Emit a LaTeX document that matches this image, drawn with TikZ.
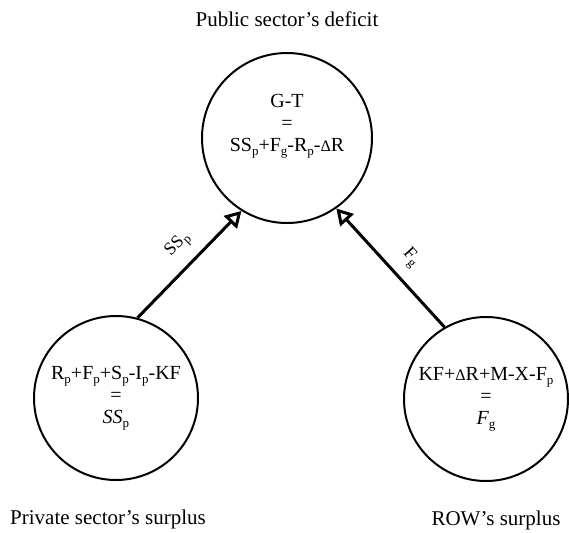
\documentclass[tikz,border=0pt]{standalone}
\usepackage{fontspec}
\setmainfont{Liberation Serif}
\usetikzlibrary{arrows.meta,positioning}
\newcommand{\sbs}[1]{\raisebox{-0.45ex}{\fontsize{6.5}{6.5}\selectfont #1}}
\newcommand{\dlt}{{\footnotesize Δ}}

\begin{document}
\begin{tikzpicture}[x=0.5pt, y=-0.5pt, >={Triangle[open,length=8pt,width=9pt]},
    sector/.style={draw, circle, line width=1pt, inner sep=0pt, align=center,
      font=\fontsize{10}{11}\selectfont},
    caption/.style={font=\fontsize{10.5}{12}\selectfont},
    flowlabel/.style={font=\fontsize{9}{10}\selectfont, sloped, above=2pt}]
    \useasboundingbox (0,0) rectangle (569,532);
    \node[sector, minimum size=85pt] (pub) at (287,138) {};
    \node[align=center, font=\fontsize{10}{11}\selectfont] (pubeq) at ([yshift=6pt]pub.center)
      {G-T\\=\\SS\sbs{p}+F\sbs{g}-R\sbs{p}-\dlt R};
    \node[sector, minimum size=82pt] (priv) at (116,398)
      {R\sbs{p}+F\sbs{p}+S\sbs{p}-I\sbs{p}-KF\\=\\\textit{SS}\sbs{p}};
    \node[sector, minimum size=82pt] (rowc) at (486,399)
      {KF+\dlt R+M-X-F\sbs{p}\\=\\\textit{F}\sbs{g}};

    \node[caption, above=9pt of pub] (pubname) {Public sector's deficit};
    \node[caption, below=11pt of priv, xshift=-4pt] (privname) {Private sector's surplus};
    \node[caption, below=11pt of rowc, xshift=5pt] (rowname) {ROW's surplus};

    \draw[->, line width=1.5pt] (priv.75) -- node[flowlabel, pos=0.54] {SS\sbs{p}} (pub.238);
    \draw[->, line width=1.5pt] (rowc.120) -- node[flowlabel, pos=0.46] {F\sbs{g}} (pub.305);
\end{tikzpicture}
\end{document}
